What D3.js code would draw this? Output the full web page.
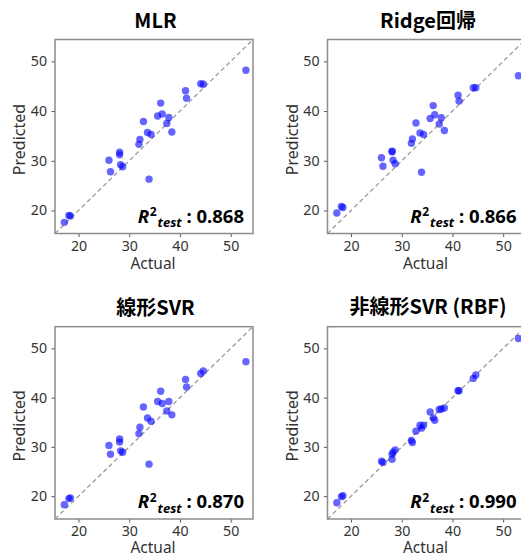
<!DOCTYPE html>
<html><head><meta charset="utf-8">
<script src="https://cdn.jsdelivr.net/npm/d3@7"></script>
<style>body{margin:0;background:#fff;} svg{display:block;}</style>
</head><body>
<svg id="c" width="521" height="557"></svg>
<script>
const titles = ["MLR", "Ridge回帰", "線形SVR", "非線形SVR (RBF)"];
const r2Labels = ["0.868", "0.866", "0.870", "0.990"];
const ticks = [20, 30, 40, 50];
const actual = [17.2, 18.1, 18.4, 26.0, 26.3, 28.1, 28.1, 28.3, 28.7, 31.9, 32.1, 32.8, 33.6, 33.9, 34.3, 35.6, 36.2, 36.5, 37.4, 37.8, 38.4, 41.1, 41.3, 44.1, 44.6, 53.0];
const predMLR = [17.6, 19.0, 18.9, 30.1, 27.8, 31.7, 31.2, 29.2, 28.8, 33.3, 34.3, 37.9, 35.7, 26.3, 35.3, 39.0, 41.6, 39.4, 37.5, 38.7, 35.8, 44.1, 42.6, 45.5, 45.4, 48.2];
const predRidge = [19.5, 20.8, 20.6, 30.6, 28.9, 31.9, 31.8, 30.1, 29.4, 33.5, 34.4, 37.6, 35.6, 27.7, 35.3, 38.5, 41.1, 39.25, 37.4, 38.65, 36.1, 43.2, 42.0, 44.7, 44.7, 47.1];
const predLinSVR = [18.25, 19.5, 19.65, 30.3, 28.5, 31.6, 31.0, 29.2, 28.9, 32.7, 34.0, 38.1, 35.85, 26.5, 35.2, 39.2, 41.3, 38.8, 37.3, 39.2, 36.5, 43.7, 42.15, 44.9, 45.4, 47.3];
const predRBF = [18.65, 19.9, 20.1, 27.1, 26.85, 27.5, 28.5, 28.9, 29.4, 31.3, 30.9, 33.2, 34.4, 33.8, 34.4, 37.1, 35.9, 35.4, 37.6, 37.7, 37.9, 41.4, 41.4, 43.9, 44.6, 52.0];
const preds = [predMLR, predRidge, predLinSVR, predRBF];
const domain = [15.36, 54.4];

const panels = [
  {x0: 55, x1: 253, y0: 39.5, y1: 233.5, ty: 28, ay: 269.3},
  {x0: 327.5, x1: 525.5, y0: 39.5, y1: 233.5, ty: 28, ay: 269.3},
  {x0: 55, x1: 253, y0: 326.7, y1: 519, ty: 315, ay: 553.3},
  {x0: 327.5, x1: 525.5, y0: 326.7, y1: 519, ty: 314, ay: 553.3}
];

const svg = d3.select("#c");
const FONT = "'Noto Sans', 'Open Sans', sans-serif";
const CJK = "'Noto Sans CJK JP', 'Noto Sans', sans-serif";

panels.forEach((p, i) => {
  const x = d3.scaleLinear().domain(domain).range([p.x0, p.x1]);
  const y = d3.scaleLinear().domain(domain).range([p.y1, p.y0]);
  const g = svg.append("g");

  // axes
  const xa = g.append("g").attr("transform", `translate(0,${p.y1})`)
    .call(d3.axisBottom(x).tickValues(ticks).tickSize(3.5).tickSizeOuter(0).tickPadding(3.5));
  const ya = g.append("g").attr("transform", `translate(${p.x0},0)`)
    .call(d3.axisLeft(y).tickValues(ticks).tickSize(3.5).tickSizeOuter(0).tickPadding(4.5));
  [xa, ya].forEach(a => {
    a.select(".domain").remove();
    a.selectAll(".tick line").attr("stroke", "#555").attr("stroke-width", 1);
    a.selectAll(".tick text").attr("fill", "#333").attr("font-size", 14.2).attr("font-family", FONT);
  });

  // diagonal
  g.append("line")
    .attr("x1", x(domain[0])).attr("y1", y(domain[0]))
    .attr("x2", x(domain[1])).attr("y2", y(domain[1]))
    .attr("stroke", "#999").attr("stroke-width", 1.3).attr("stroke-dasharray", "4.5,3");

  // points
  g.selectAll("circle.pt").data(actual.map((a, k) => [a, preds[i][k]])).enter()
    .append("circle").attr("class", "pt")
    .attr("cx", d => x(d[0])).attr("cy", d => y(d[1])).attr("r", 3.7)
    .attr("fill", "#0000ff").attr("fill-opacity", 0.6);

  // frame
  g.append("rect").attr("x", p.x0).attr("y", p.y0)
    .attr("width", p.x1 - p.x0).attr("height", p.y1 - p.y0)
    .attr("fill", "none").attr("stroke", "#8c8c8c").attr("stroke-width", 1.5);

  // title
  g.append("text").attr("x", (p.x0 + p.x1) / 2 + 1.5).attr("y", p.ty)
    .attr("text-anchor", "middle").attr("font-family", CJK).attr("font-weight", "bold")
    .attr("font-size", 20).attr("fill", "#000").text(titles[i]);

  // axis labels
  g.append("text").attr("x", (p.x0 + p.x1) / 2 - 1).attr("y", p.ay)
    .attr("text-anchor", "middle").attr("font-family", FONT).attr("font-size", 15.5)
    .attr("fill", "#333").text("Actual");
  g.append("text")
    .attr("transform", `translate(${p.x0 - 30},${(p.y0 + p.y1) / 2 + 3}) rotate(-90)`)
    .attr("text-anchor", "middle").attr("font-family", FONT).attr("font-size", 16)
    .attr("fill", "#333").text("Predicted");

  // R2 annotation
  const t = g.append("text").attr("x", p.x0 + 189).attr("y", p.y1 - 10.8)
    .attr("text-anchor", "end").attr("font-family", FONT).attr("font-weight", "bold")
    .attr("font-size", 18.5).attr("fill", "#000");
  t.append("tspan").attr("font-style", "italic").text("R");
  t.append("tspan").attr("font-size", 12).attr("dy", -6.5).attr("dx", 0.5).text("2");
  t.append("tspan").attr("font-size", 13).attr("font-style", "italic").attr("dy", 11).attr("dx", 1).text("test");
  t.append("tspan").attr("dy", -4.5).text(" : " + r2Labels[i]);
});
</script>
</body></html>
